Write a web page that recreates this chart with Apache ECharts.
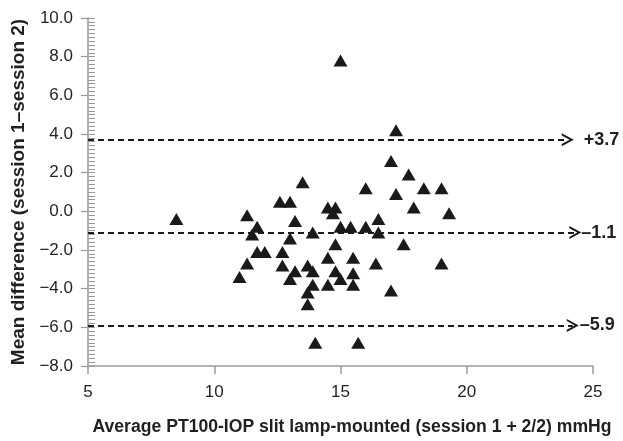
<!DOCTYPE html>
<html>
<head>
<meta charset="utf-8">
<script src="https://cdn.jsdelivr.net/npm/echarts@6/dist/echarts.min.js"></script>
<style>
html,body{margin:0;padding:0;background:#fff;}
#chart{width:623px;height:441px;}
</style>
</head>
<body>
<div id="chart"></div>
<script>
// Average of sessions (x) and mean difference (y)
const xAvg = [8.5, 11.0, 11.3, 11.7, 11.5, 11.7, 12.0, 11.3, 12.6, 13.0,
              13.5, 13.2, 13.0, 12.7, 12.7, 13.2, 13.0, 13.7, 13.9, 13.9,
              13.9, 13.7, 13.7, 14.0, 14.5, 14.8, 14.7, 15.0, 15.4, 14.8,
              14.5, 15.5, 14.8, 15.0, 15.5, 14.5, 15.5, 15.7, 15.0, 16.0,
              16.0, 16.5, 16.5, 16.4, 17.2, 17.0, 17.7, 17.2, 18.3, 19.0,
              17.9, 19.3, 17.5, 19.0, 17.0];
const yDiff = [-0.4, -3.4, -0.2, -0.8, -1.2, -2.1, -2.1, -2.7, 0.5, 0.5,
               1.5, -0.5, -1.4, -2.1, -2.8, -3.1, -3.5, -2.8, -1.1, -3.1,
               -3.8, -4.2, -4.8, -6.8, 0.2, 0.2, -0.1, -0.8, -0.8, -1.7,
               -2.4, -2.4, -3.1, -3.5, -3.2, -3.8, -3.8, -6.8, 7.8, 1.2,
               -0.8, -0.4, -1.1, -2.7, 4.2, 2.6, 1.9, 0.9, 1.2, 1.2,
               0.2, -0.1, -1.7, -2.7, -4.1];
// Limits of agreement and mean
const limitValues = [3.7, -1.1, -5.9];
const limitLabels = ['+3.7', '\u20131.1', '\u20135.9'];
const xTicks = [5, 10, 15, 20, 25];
const yTickLabels = ['\u22128.0','\u22126.0','\u22124.0','\u22122.0','0.0','2.0','4.0','6.0','8.0','10.0'];

const points = xAvg.map((x, i) => [x, yDiff[i]]);
const lineEnds = [24.0, 24.3, 24.2];
const labelDist = [16, 6, 7];
const chevron = 'path://M0,10 L5,0 L10,10 L8.3,10 L5,3.4 L1.7,10 Z';

const font = '"Liberation Sans", Arial, sans-serif';
const txt = '#231f20';
const axisGray = '#9a9a9a';

const chart = echarts.init(document.getElementById('chart'), null, {renderer: 'canvas'});
chart.setOption({
  animation: false,
  backgroundColor: '#fff',
  grid: {left: 88, right: 30, top: 18, bottom: 75, containLabel: false},
  xAxis: {
    type: 'value', min: xTicks[0], max: xTicks[xTicks.length - 1], interval: 5,
    name: 'Average PT100-IOP slit lamp-mounted (session 1 + 2/2) mmHg',
    nameLocation: 'middle', nameGap: 52,
    nameTextStyle: {fontFamily: font, fontSize: 17.6, fontWeight: 'bold', color: txt, padding: [0, 0, 0, 23]},
    axisLine: {show: true, onZero: false, lineStyle: {color: axisGray, width: 1.5}},
    axisTick: {show: true, length: 8, lineStyle: {color: axisGray, width: 1.5}},
    axisLabel: {fontFamily: font, fontSize: 17, color: txt, margin: 18},
    splitLine: {show: false}
  },
  yAxis: [{
    type: 'value', min: -8, max: 10, interval: 2,
    name: 'Mean difference (session 1\u2013session 2)',
    nameLocation: 'middle', nameGap: 58,
    nameTextStyle: {fontFamily: font, fontSize: 19, fontWeight: 'bold', color: txt},
    axisLine: {show: true, onZero: false, lineStyle: {color: axisGray, width: 1.5}},
    axisTick: {show: true, length: 7, lineStyle: {color: axisGray, width: 1.2}},
    axisLabel: {fontFamily: font, fontSize: 17, color: txt, margin: 15,
      formatter: v => yTickLabels[Math.round((v + 8) / 2)]},
    splitLine: {show: false}
  }, {
    type: 'value', min: -8, max: 10, interval: 0.2, position: 'left',
    axisLine: {show: false, onZero: false},
    axisTick: {show: true, inside: true, length: 7, lineStyle: {color: axisGray, width: 1}},
    axisLabel: {show: false},
    splitLine: {show: false}
  }],
  series: [{
    type: 'scatter',
    yAxisIndex: 0,
    data: points,
    symbol: 'triangle',
    symbolSize: [14, 12],
    itemStyle: {color: '#1a1a1a', opacity: 1},
    silent: true,
    markLine: {
      silent: true,
      animation: false,
      symbol: ['none', chevron],
      symbolSize: 12,
      lineStyle: {color: '#1a1a1a', type: [6, 4], width: 2},
      data: limitValues.map((v, i) => [
        {coord: [xTicks[0], v], symbol: 'none'},
        {coord: [lineEnds[i], v], symbol: chevron, symbolSize: [13, 12],
         label: {show: true, position: 'end', distance: labelDist[i],
                 formatter: limitLabels[i], fontFamily: font, fontSize: 18,
                 fontWeight: 'bold', color: txt}}
      ])
    }
  }]
});
</script>
</body>
</html>
